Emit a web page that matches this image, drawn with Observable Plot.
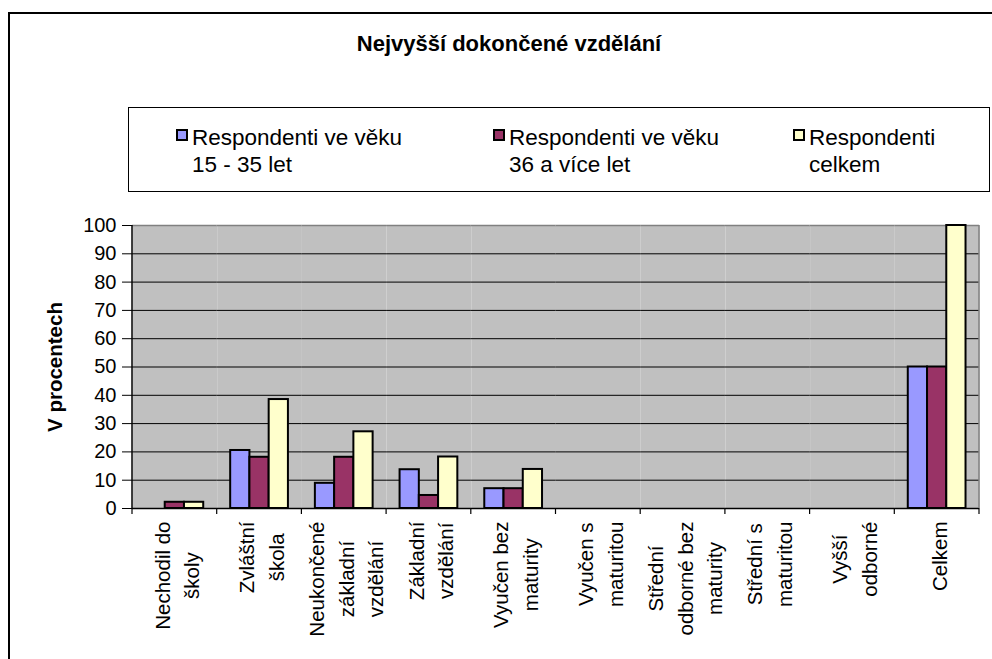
<!DOCTYPE html>
<html>
<head>
<meta charset="utf-8">
<script src="https://cdn.jsdelivr.net/npm/d3@7"></script>
<script src="https://cdn.jsdelivr.net/npm/@observablehq/plot@0.6"></script>
<style>
html, body { margin: 0; padding: 0; background: #fff; overflow: hidden; }
#wrap { position: relative; width: 992px; height: 659px; font-family: "Liberation Sans", Arial, sans-serif; color: #000; }
#chart { position: absolute; left: 0; top: 0; }
#border { position: absolute; left: 8px; top: 12px; width: 1000px; height: 700px; border: 2px solid #000; box-sizing: border-box; pointer-events: none; }
#title { position: absolute; top: 31px; left: 509px; transform: translateX(-50%); font-weight: bold; font-size: 22px; white-space: nowrap; }
#legend { position: absolute; left: 128px; top: 107px; width: 862px; height: 85px; border: 1px solid #000; box-sizing: border-box; background: #fff; }
.item { position: absolute; top: 16px; font-size: 22.5px; line-height: 27px; }
.sw { position: absolute; left: 0; top: 5px; width: 12px; height: 12px; border: 2px solid #000; box-sizing: border-box; }
.lt { position: absolute; left: 16px; top: 0; white-space: pre; }
</style>
</head>
<body>
<div id="wrap">
  <div id="chart"></div>
  <div id="border"></div>
  <div id="title"></div>
  <div id="legend"></div>
</div>
<script>
const titleText = "Nejvyšší dokončené vzdělání";
const yLabel = "V procentech";
const categories = ["Nechodil do školy", "Zvláštní škola", "Neukončené základní vzdělání", "Základní vzdělání", "Vyučen bez maturity", "Vyučen s maturitou", "Střední odborné bez maturity", "Střední s maturitou", "Vyšší odborné", "Celkem"];
const tickLabels = ["Nechodil do\nškoly", "Zvláštní\nškola", "Neukončené\nzákladní\nvzdělání", "Základní\nvzdělání", "Vyučen bez\nmaturity", "Vyučen s\nmaturitou", "Střední\nodborné bez\nmaturity", "Střední s\nmaturitou", "Vyšší\nodborné", "Celkem"];
const series = ["Respondenti ve věku 15 - 35 let", "Respondenti ve věku 36 a více let", "Respondenti celkem"];
const legendLabels = ["Respondenti ve věku\n15 - 35 let", "Respondenti ve věku\n36 a více let", "Respondenti\ncelkem"];
const colors = ["#9999FF", "#993366", "#FFFFCC"];
const young = [0, 20.5, 8.9, 13.7, 7.0, 0, 0, 0, 0, 50];
const older = [2.2, 18.1, 18.1, 4.6, 7.0, 0, 0, 0, 0, 50];
const total = [2.2, 38.5, 27.1, 18.2, 13.8, 0, 0, 0, 0, 100];
const yTicks = [0, 10, 20, 30, 40, 50, 60, 70, 80, 90, 100];

const values = [young, older, total];
const data = categories.flatMap((c, i) => series.map((s, j) => ({category: c, series: s, value: values[j][i]})));
const font = "Liberation Sans, Arial, sans-serif";

document.getElementById("title").textContent = titleText;
const legendLeft = [47, 364, 664];
const legend = document.getElementById("legend");
series.forEach((s, j) => {
  const it = document.createElement("div");
  it.className = "item";
  it.style.left = legendLeft[j] + "px";
  const sw = document.createElement("div");
  sw.className = "sw";
  sw.style.background = colors[j];
  const lt = document.createElement("div");
  lt.className = "lt";
  lt.textContent = legendLabels[j];
  it.appendChild(sw); it.appendChild(lt);
  legend.appendChild(it);
});

const chart = Plot.plot({
  width: 992,
  height: 659,
  marginLeft: 132,
  marginRight: 13,
  marginTop: 225,
  marginBottom: 151,
  style: {fontFamily: font, background: "transparent", overflow: "visible", color: "#000"},
  fx: {domain: categories, padding: 0, round: false, axis: null},
  x: {domain: series, paddingInner: 0, paddingOuter: 0.7, round: false, axis: null},
  y: {domain: [0, 100], axis: null},
  color: {domain: series, range: colors},
  marks: [
    Plot.frame({fill: "#c0c0c0", stroke: null}),
    Plot.ruleY(yTicks.filter(t => t > 0 && t < 100), {stroke: "#000", strokeWidth: 1}),
    Plot.ruleY([100], {stroke: "#808080", strokeWidth: 1.5}),
    Plot.barY(data, {fx: "category", x: "series", y: "value", fill: "series", stroke: "#000", strokeWidth: 2, filter: d => d.value > 0}),
    Plot.ruleY([0], {stroke: "#000", strokeWidth: 1.5}),
    Plot.axisY({ticks: yTicks, tickSize: 10, tickPadding: 6, fontSize: 20, label: yLabel, labelAnchor: "center", labelOffset: 85, labelArrow: "none"}),
    Plot.text(categories, {fx: d => d, text: (d, i) => tickLabels[i], frameAnchor: "bottom", rotate: -90, textAnchor: "end", lineAnchor: "middle", dy: 13, lineHeight: 1.45, fontSize: 20.5, fill: "#000"})
  ]
});
document.getElementById("chart").appendChild(chart);

// axis decoration: left axis line, right plot border, category boundary ticks (from the fx scale)
const fx = chart.scale("fx");
const yS = chart.scale("y");
const svg = d3.select(chart);
const x0 = fx.range[0], x1 = fx.range[1];
const yTop = yS.range[1], yBot = yS.range[0];
const deco = svg.append("g");
deco.append("line").attr("x1", x1).attr("x2", x1).attr("y1", yTop).attr("y2", yBot).attr("stroke", "#808080").attr("stroke-width", 1.5);
deco.append("line").attr("x1", x0).attr("x2", x0).attr("y1", yTop).attr("y2", yBot + 1).attr("stroke", "#000").attr("stroke-width", 1.5);
categories.concat([null]).forEach((c, i) => {
  const xx = x0 + i * fx.step;
  deco.append("line").attr("x1", xx).attr("x2", xx).attr("y1", yBot).attr("y2", yBot + 6).attr("stroke", "#000").attr("stroke-width", 1.2);
});

// center the wrapped lines of each rotated category label
svg.selectAll('g[aria-label="text"] text').each(function() {
  const tspans = this.querySelectorAll("tspan");
  if (tspans.length < 2) return;
  let maxW = 0;
  tspans.forEach(t => { maxW = Math.max(maxW, t.getComputedTextLength()); });
  this.setAttribute("text-anchor", "middle");
  tspans.forEach(t => t.setAttribute("x", -maxW / 2));
});
// y axis label bold
svg.selectAll('g[aria-label="y-axis label"] text').attr("font-weight", "bold").attr("font-size", 20.5);
</script>
</body>
</html>
